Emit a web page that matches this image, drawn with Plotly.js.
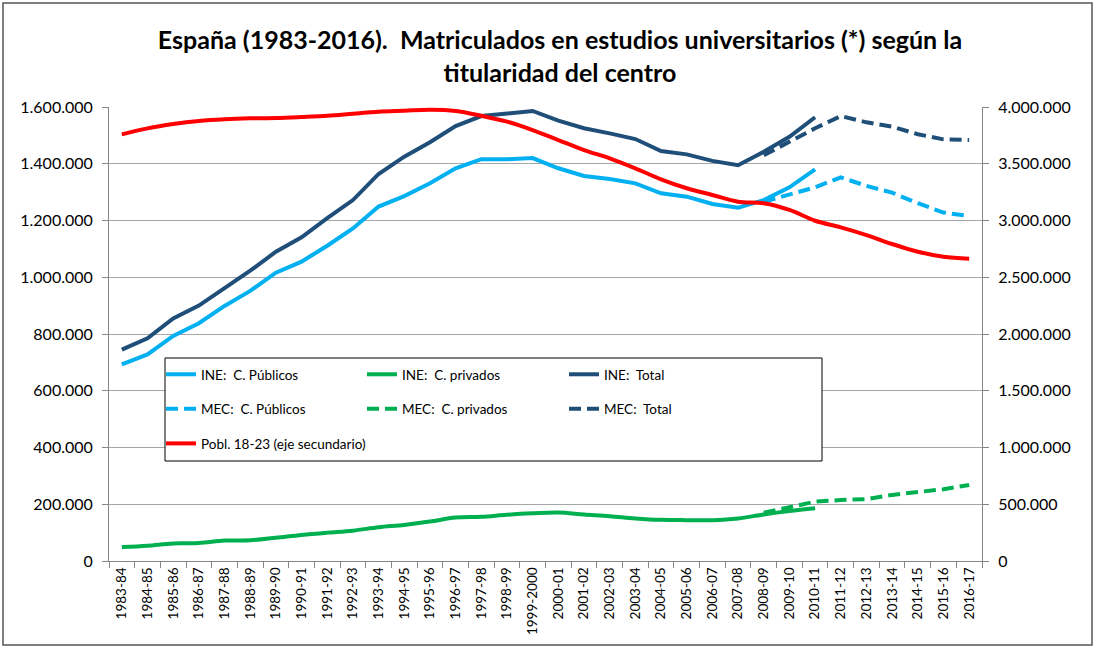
<!DOCTYPE html>
<html>
<head>
<meta charset="utf-8">
<script src="https://cdn.plot.ly/plotly-3.0.1.min.js"></script>
<style>html,body{margin:0;padding:0;background:#fff;}#chart{width:1098px;height:651px;}</style>
</head>
<body>
<div id="chart"></div>
<script>
const categories = ['1983-84','1984-85','1985-86','1986-87','1987-88','1988-89','1989-90','1990-91','1991-92','1992-93','1993-94','1994-95','1995-96','1996-97','1997-98','1998-99','1999-2000','2000-01','2001-02','2002-03','2003-04','2004-05','2005-06','2006-07','2007-08','2008-09','2009-10','2010-11','2011-12','2012-13','2013-14','2014-15','2015-16','2016-17'];

const inePublicos = [693000,728000,793000,838000,899000,952000,1016000,1055000,1111000,1172000,1249000,1286000,1331000,1384000,1416000,1416000,1420000,1384000,1357000,1346000,1331000,1296000,1284000,1258000,1245000,1272000,1317000,1380000,null,null,null,null,null,null];
const inePrivados = [49000,54000,62000,63000,72000,73000,82000,92000,100000,107000,119000,127000,139000,153000,156000,163000,168000,171000,164000,158000,150000,145000,144000,144000,150000,164000,176000,186000,null,null,null,null,null,null];
const ineTotal = [745000,785000,855000,900000,962000,1023000,1090000,1141000,1208000,1272000,1364000,1425000,1476000,1533000,1568000,1578000,1586000,1552000,1525000,1507000,1487000,1445000,1433000,1410000,1395000,1442000,1495000,1564000,null,null,null,null,null,null];

const mecPublicos = [null,null,null,null,null,null,null,null,null,null,null,null,null,null,null,null,null,null,null,null,null,null,null,null,null,1266000,1290000,1317000,1352000,1322000,1298000,1261000,1228000,1216000];
const mecPrivados = [null,null,null,null,null,null,null,null,null,null,null,null,null,null,null,null,null,null,null,null,null,null,null,null,null,170000,191000,209000,215000,218000,233000,242000,253000,268000];
const mecTotal = [null,null,null,null,null,null,null,null,null,null,null,null,null,null,null,null,null,null,null,null,null,null,null,null,null,1430000,1478000,1525000,1568000,1546000,1531000,1504000,1486000,1484000];

const poblacion = [3759000,3812000,3850000,3877000,3892000,3900000,3903000,3912000,3923000,3941000,3959000,3967000,3975000,3965000,3923000,3871000,3797000,3709000,3621000,3548000,3460000,3363000,3284000,3225000,3166000,3152000,3093000,2998000,2940000,2872000,2793000,2725000,2681000,2663000];

const FONT = 'Lato, "Open Sans", "DejaVu Sans", sans-serif';
const C_PUB = '#00B0F0', C_PRIV = '#00B050', C_TOT = '#1F4E79', C_POB = '#FF0000';
const DASH = '12px,6px';
const W = 4;

function tr(name, y, color, dash, shape, legend, group, yaxis) {
  return {
    type: 'scatter', mode: 'lines', x: categories, y: y, name: name,
    line: {color: color, width: W, dash: dash, shape: shape},
    connectgaps: false, legend: legend, legendgroup: group,
    yaxis: yaxis || 'y', hoverinfo: 'x+y+name'
  };
}

const traces = [
  tr('INE:\u00a0 C. Públicos', inePublicos, C_PUB, 'solid', 'linear', 'legend', 'g1'),
  tr('INE:\u00a0 C. privados', inePrivados, C_PRIV, 'solid', 'spline', 'legend2', 'g2'),
  tr('INE:\u00a0 Total', ineTotal, C_TOT, 'solid', 'linear', 'legend3', 'g3'),
  tr('MEC:\u00a0 C. Públicos', mecPublicos, C_PUB, DASH, 'linear', 'legend', 'g4'),
  tr('MEC:\u00a0 C. privados', mecPrivados, C_PRIV, DASH, 'linear', 'legend2', 'g5'),
  tr('MEC:\u00a0 Total', mecTotal, C_TOT, DASH, 'linear', 'legend3', 'g6'),
  tr('Pobl. 18-23 (eje secundario)', poblacion, C_POB, 'solid', 'spline', 'legend', 'g7', 'y2')
];

const L = 109, R = 982, T = 107, B = 561;
const PW = R - L, PH = B - T;
function px(x) { return (x - L) / PW; }
function py(y) { return (B - y) / PH; }

const legendBase = {
  orientation: 'v', bgcolor: 'rgba(0,0,0,0)', borderwidth: 0,
  traceorder: 'grouped', tracegroupgap: 14,
  font: {family: FONT, size: 13.5, color: '#000'},
  xanchor: 'left', yanchor: 'top', itemwidth: 30
};

const layout = {
  width: 1098, height: 651,
  margin: {l: L, r: 1098 - R, t: T, b: 651 - B},
  paper_bgcolor: '#fff', plot_bgcolor: '#fff',
  separators: ',.',
  font: {family: FONT, size: 15, color: '#000'},
  title: {
    text: '<b>España (1983-2016).\u00a0 Matriculados en estudios universitarios (*) según la<br>titularidad del centro</b>',
    font: {family: FONT, size: 25, color: '#000'},
    x: px(560), xanchor: 'center', xref: 'paper',
    y: 1 - 49 / 651, yanchor: 'middle', yref: 'container'
  },
  showlegend: true,
  legend: Object.assign({}, legendBase, {x: px(161), y: py(359)}),
  legend2: Object.assign({}, legendBase, {x: px(362), y: py(359)}),
  legend3: Object.assign({}, legendBase, {x: px(564), y: py(359)}),
  xaxis: {
    type: 'category', range: [-0.5, categories.length - 0.5],
    tickangle: -90, tickfont: {family: FONT, size: 13.5, color: '#000'},
    ticks: 'outside', tickson: 'boundaries', ticklen: 6, tickcolor: '#868686',
    showline: true, linecolor: '#868686', linewidth: 1,
    showgrid: false, zeroline: false, fixedrange: true
  },
  yaxis: {
    range: [0, 1600000], dtick: 200000, tick0: 0, tickformat: ',d',
    tickfont: {family: FONT, size: 16, color: '#000'},
    ticks: 'outside', ticklen: 6, tickcolor: '#868686', ticklabelstandoff: 6,
    showline: true, linecolor: '#868686', linewidth: 1,
    showgrid: true, gridcolor: '#A6A6A6', gridwidth: 1,
    zeroline: false, fixedrange: true
  },
  yaxis2: {
    overlaying: 'y', side: 'right',
    range: [0, 4000000], dtick: 500000, tick0: 0, tickformat: ',d',
    tickfont: {family: FONT, size: 16, color: '#000'},
    ticks: 'outside', ticklen: 6, tickcolor: '#868686', ticklabelstandoff: 6,
    showline: true, linecolor: '#868686', linewidth: 1,
    showgrid: false, zeroline: false, fixedrange: true
  },
  shapes: [
    {type: 'rect', xref: 'paper', yref: 'paper', x0: px(165), x1: px(822), y0: py(461), y1: py(358),
     line: {color: '#000', width: 1}, fillcolor: 'rgba(255,255,255,1)', layer: 'above'},
    {type: 'rect', xref: 'paper', yref: 'paper', x0: px(3), x1: px(1092), y0: py(645), y1: py(3),
     line: {color: '#555', width: 1.5}, fillcolor: 'rgba(0,0,0,0)', layer: 'below'}
  ]
};

Plotly.newPlot('chart', traces, layout, {displayModeBar: false, staticPlot: false});
</script>
</body>
</html>
